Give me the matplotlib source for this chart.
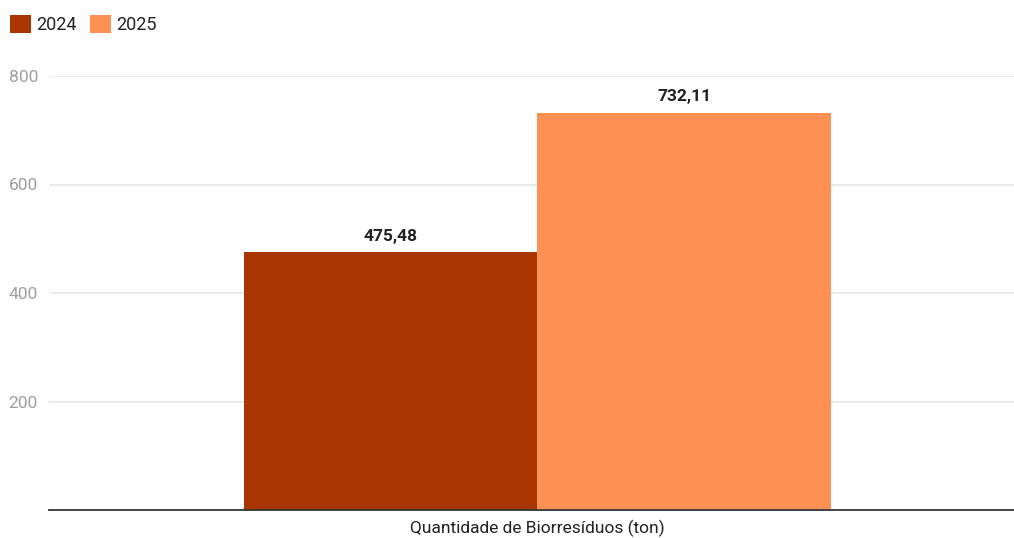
import matplotlib.pyplot as plt

# data
series = ["2024", "2025"]
values = [475.48, 732.11]
colors = ["#a83500", "#fd9052"]
category = "Quantidade de Biorresíduos (ton)"
yticks = [200, 400, 600, 800]

plt.rcParams['font.family'] = ['Roboto', 'DejaVu Sans']

fig = plt.figure(figsize=(10.14, 5.38), dpi=100)
W, H = 1014, 538
ax = fig.add_axes([49 / W, (H - 510) / H, 1 - 49 / W, (510 - 76) / H])

# bars sit either side of the category centre
offsets = [-1, 0]
for off, v, c, s in zip(offsets, values, colors, series):
    ax.bar(off, v, width=1, align='edge', color=c, label=s, zorder=2)
    ax.annotate(f"{v:.2f}".replace(".", ","), xy=(off + 0.5, v), xytext=(0, 6),
                textcoords='offset points', ha='center', va='bottom',
                fontsize=12.5, fontweight='bold', color='#222222')

ax.set_xlim(-1.664, 1.624)
ax.set_ylim(0, 800)
ax.set_yticks(yticks)
ax.set_yticklabels([str(t) for t in yticks], color='#9e9e9e', fontsize=12.5)
ax.set_xticks([0])
ax.set_xticklabels([category], fontsize=12.5, color='#222222')
ax.tick_params(axis='both', length=0)
ax.tick_params(axis='y', pad=8)
ax.tick_params(axis='x', pad=7)
ax.grid(axis='y', color='#e6e6e6', linewidth=1.2, zorder=0)
for sp in ['top', 'right', 'left']:
    ax.spines[sp].set_visible(False)
ax.spines['bottom'].set_color('#333333')
ax.spines['bottom'].set_linewidth(1.3)
ax.spines['bottom'].set_zorder(3)

leg = fig.legend(loc='upper left', bbox_to_anchor=(10 / W, 1 - 15 / H), ncol=2, frameon=False,
                 fontsize=13, handlelength=1.15, handleheight=1.15, handletextpad=0.28,
                 columnspacing=0.75, borderpad=0, borderaxespad=0)
for t in leg.get_texts():
    t.set_color('#222222')

fig.savefig("out.png", dpi=100)
